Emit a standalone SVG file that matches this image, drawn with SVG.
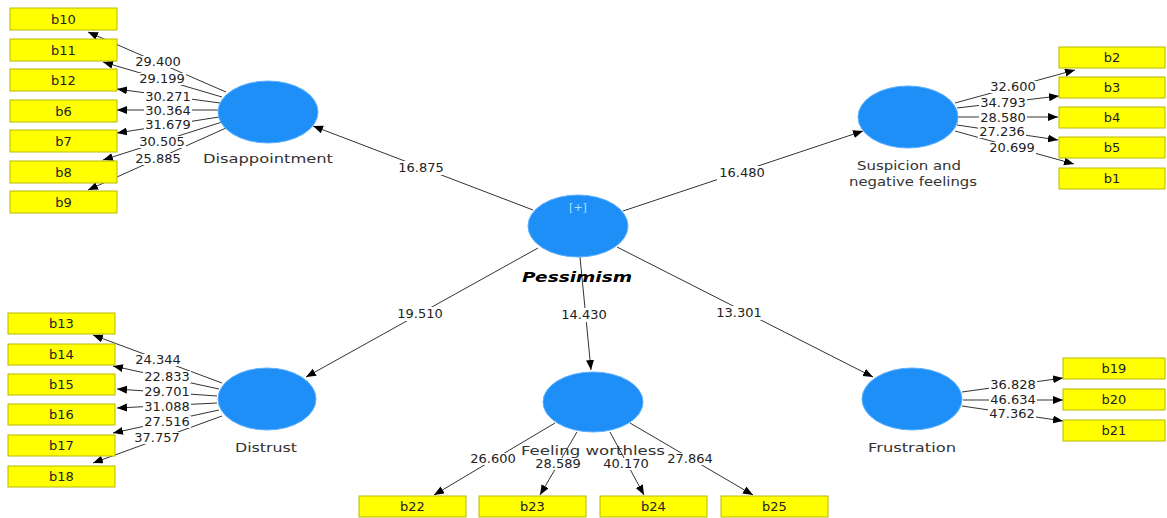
<svg xmlns="http://www.w3.org/2000/svg" width="1167" height="518" viewBox="0 0 1167 518">
<defs>
<marker id="ah" markerUnits="userSpaceOnUse" markerWidth="11" markerHeight="9" refX="10" refY="4" orient="auto">
<path d="M0,0 L10,4 L0,8 z" fill="#000"/>
</marker>
<style>
.box{fill:#ffff00;stroke:#b8b800;stroke-width:1}
.bt{font-family:"DejaVu Sans",Verdana,sans-serif;font-size:13px;fill:#222;text-anchor:middle}
.lv{fill:#1e8ff7;stroke:#5fb0ff;stroke-width:1}
.nl{font-family:"DejaVu Sans",Verdana,sans-serif;font-size:13px;fill:#333;text-anchor:middle}
.c line{stroke:#333;stroke-width:1;marker-end:url(#ah)}
.lb{font-family:"DejaVu Sans",Verdana,sans-serif;font-size:13px;fill:#222;text-anchor:middle}
.bg{fill:#fff}
</style>
</defs>
<rect width="1167" height="518" fill="#fff"/>

<g id="connectors" class="c">
<line x1="533" y1="210" x2="313" y2="126"/>
<line x1="623" y1="211" x2="863" y2="131"/>
<line x1="538" y1="248" x2="306" y2="377"/>
<line x1="580" y1="257" x2="591" y2="370"/>
<line x1="617" y1="247" x2="873" y2="377"/>
<line x1="226" y1="92" x2="88" y2="32"/>
<line x1="222" y1="97" x2="103" y2="62"/>
<line x1="220" y1="103" x2="117" y2="89"/>
<line x1="218" y1="110" x2="117" y2="110"/>
<line x1="219" y1="117" x2="117" y2="133"/>
<line x1="222" y1="122" x2="103" y2="160"/>
<line x1="226" y1="128" x2="88" y2="190"/>
<line x1="955" y1="103" x2="1075" y2="70"/>
<line x1="957" y1="108" x2="1059" y2="96"/>
<line x1="958" y1="117" x2="1058" y2="117"/>
<line x1="957" y1="125" x2="1058" y2="140"/>
<line x1="955" y1="131" x2="1074" y2="164"/>
<line x1="222" y1="383" x2="93" y2="335"/>
<line x1="219" y1="389" x2="113" y2="366"/>
<line x1="217" y1="396" x2="117" y2="389"/>
<line x1="217" y1="403" x2="117" y2="408"/>
<line x1="219" y1="410" x2="113" y2="433"/>
<line x1="222" y1="416" x2="93" y2="463"/>
<line x1="555" y1="423" x2="434" y2="495"/>
<line x1="577" y1="432" x2="540" y2="495"/>
<line x1="610" y1="432" x2="644" y2="495"/>
<line x1="630" y1="423" x2="753" y2="495"/>
<line x1="962" y1="392" x2="1063" y2="378"/>
<line x1="963" y1="400" x2="1063" y2="400"/>
<line x1="962" y1="406" x2="1063" y2="421"/>
</g>

<g id="edge-label-bg" class="bg">
<rect x="396" y="161" width="50" height="14"/>
<rect x="717" y="166" width="50" height="14"/>
<rect x="395" y="307" width="50" height="14"/>
<rect x="559" y="308" width="50" height="14"/>
<rect x="714" y="306" width="50" height="14"/>
<rect x="134" y="56" width="48" height="12"/>
<rect x="138" y="73" width="48" height="12"/>
<rect x="144" y="91" width="48" height="12"/>
<rect x="144" y="105" width="48" height="12"/>
<rect x="144" y="119" width="48" height="12"/>
<rect x="138" y="136" width="48" height="12"/>
<rect x="134" y="153" width="48" height="12"/>
<rect x="989" y="81" width="48" height="12"/>
<rect x="979" y="97" width="48" height="12"/>
<rect x="979" y="112" width="48" height="12"/>
<rect x="978" y="126" width="48" height="12"/>
<rect x="988" y="142" width="48" height="12"/>
<rect x="134" y="354" width="48" height="12"/>
<rect x="143" y="371" width="48" height="12"/>
<rect x="143" y="386" width="48" height="12"/>
<rect x="143" y="401" width="48" height="12"/>
<rect x="143" y="416" width="48" height="12"/>
<rect x="133" y="432" width="48" height="12"/>
<rect x="469" y="453" width="48" height="12"/>
<rect x="534" y="458" width="48" height="12"/>
<rect x="602" y="458" width="48" height="12"/>
<rect x="666" y="453" width="48" height="12"/>
<rect x="989" y="379" width="48" height="12"/>
<rect x="989" y="394" width="48" height="12"/>
<rect x="988" y="408" width="48" height="12"/>
</g>

<g id="edge-labels">
<text class="lb" x="421" y="172">16.875</text>
<text class="lb" x="742" y="177">16.480</text>
<text class="lb" x="420" y="318">19.510</text>
<text class="lb" x="584" y="319">14.430</text>
<text class="lb" x="739" y="317">13.301</text>
<text class="lb" x="158" y="66">29.400</text>
<text class="lb" x="162" y="83">29.199</text>
<text class="lb" x="168" y="101">30.271</text>
<text class="lb" x="168" y="115">30.364</text>
<text class="lb" x="168" y="129">31.679</text>
<text class="lb" x="162" y="146">30.505</text>
<text class="lb" x="158" y="163">25.885</text>
<text class="lb" x="1013" y="91">32.600</text>
<text class="lb" x="1003" y="107">34.793</text>
<text class="lb" x="1003" y="122">28.580</text>
<text class="lb" x="1002" y="136">27.236</text>
<text class="lb" x="1012" y="152">20.699</text>
<text class="lb" x="158" y="364">24.344</text>
<text class="lb" x="167" y="381">22.833</text>
<text class="lb" x="167" y="396">29.701</text>
<text class="lb" x="167" y="411">31.088</text>
<text class="lb" x="167" y="426">27.516</text>
<text class="lb" x="157" y="442">37.757</text>
<text class="lb" x="493" y="463">26.600</text>
<text class="lb" x="558" y="468">28.589</text>
<text class="lb" x="626" y="468">40.170</text>
<text class="lb" x="690" y="463">27.864</text>
<text class="lb" x="1013" y="389">36.828</text>
<text class="lb" x="1013" y="404">46.634</text>
<text class="lb" x="1012" y="418">47.362</text>
</g>

<g id="Pessimism">
<ellipse class="lv" cx="578" cy="226" rx="50" ry="31"/>
<text x="578" y="211" font-family="DejaVu Sans,Verdana,sans-serif" font-size="11" fill="#a8e4ff" text-anchor="middle">[+]</text>
<text x="577" y="282" font-family="DejaVu Sans,Verdana,sans-serif" font-size="14" font-weight="bold" font-style="italic" fill="#000" text-anchor="middle" textLength="110" lengthAdjust="spacingAndGlyphs">Pessimism</text>
</g>

<g id="Disappointment">
<ellipse class="lv" cx="268" cy="112" rx="50" ry="31"/>
<text class="nl" x="268" y="163" textLength="130" lengthAdjust="spacingAndGlyphs">Disappointment</text>
</g>
<g id="Suspicion">
<ellipse class="lv" cx="908" cy="117" rx="50" ry="31"/>
<text class="nl" x="909" y="170" textLength="104" lengthAdjust="spacingAndGlyphs">Suspicion and</text>
<text class="nl" x="913" y="186" textLength="128" lengthAdjust="spacingAndGlyphs">negative feelings</text>
</g>
<g id="Distrust">
<ellipse class="lv" cx="267" cy="399" rx="49" ry="31"/>
<text class="nl" x="266" y="452" textLength="62" lengthAdjust="spacingAndGlyphs">Distrust</text>
</g>
<g id="FeelingWorthless">
<ellipse class="lv" cx="593" cy="402" rx="50" ry="30"/>
<text class="nl" x="593" y="455" textLength="144" lengthAdjust="spacingAndGlyphs">Feeling worthless</text>
</g>
<g id="Frustration">
<ellipse class="lv" cx="912" cy="399" rx="50" ry="31"/>
<text class="nl" x="912" y="452" textLength="88" lengthAdjust="spacingAndGlyphs">Frustration</text>
</g>

<g id="b10"><rect class="box" x="10" y="8" width="107" height="22"/><text class="bt" x="63.5" y="24">b10</text></g>
<g id="b11"><rect class="box" x="10" y="39" width="107" height="22"/><text class="bt" x="63.5" y="55">b11</text></g>
<g id="b12"><rect class="box" x="10" y="69" width="107" height="22"/><text class="bt" x="63.5" y="85">b12</text></g>
<g id="b6"><rect class="box" x="10" y="100" width="107" height="22"/><text class="bt" x="63.5" y="116">b6</text></g>
<g id="b7"><rect class="box" x="10" y="130" width="107" height="22"/><text class="bt" x="63.5" y="146">b7</text></g>
<g id="b8"><rect class="box" x="10" y="161" width="107" height="22"/><text class="bt" x="63.5" y="177">b8</text></g>
<g id="b9"><rect class="box" x="10" y="191" width="107" height="22"/><text class="bt" x="63.5" y="207">b9</text></g>

<g id="b2"><rect class="box" x="1059" y="47" width="106" height="21"/><text class="bt" x="1112" y="62">b2</text></g>
<g id="b3"><rect class="box" x="1059" y="77" width="106" height="21"/><text class="bt" x="1112" y="92">b3</text></g>
<g id="b4"><rect class="box" x="1059" y="107" width="106" height="21"/><text class="bt" x="1112" y="122">b4</text></g>
<g id="b5"><rect class="box" x="1059" y="137" width="106" height="21"/><text class="bt" x="1112" y="152">b5</text></g>
<g id="b1"><rect class="box" x="1059" y="168" width="106" height="21"/><text class="bt" x="1112" y="183">b1</text></g>

<g id="b13"><rect class="box" x="8" y="313" width="107" height="21"/><text class="bt" x="61.5" y="328">b13</text></g>
<g id="b14"><rect class="box" x="8" y="344" width="107" height="21"/><text class="bt" x="61.5" y="359">b14</text></g>
<g id="b15"><rect class="box" x="8" y="374" width="107" height="21"/><text class="bt" x="61.5" y="389">b15</text></g>
<g id="b16"><rect class="box" x="8" y="404" width="107" height="21"/><text class="bt" x="61.5" y="419">b16</text></g>
<g id="b17"><rect class="box" x="8" y="435" width="107" height="21"/><text class="bt" x="61.5" y="450">b17</text></g>
<g id="b18"><rect class="box" x="8" y="466" width="107" height="21"/><text class="bt" x="61.5" y="481">b18</text></g>

<g id="b22"><rect class="box" x="359" y="496" width="107" height="21"/><text class="bt" x="412.5" y="511">b22</text></g>
<g id="b23"><rect class="box" x="479" y="496" width="107" height="21"/><text class="bt" x="532.5" y="511">b23</text></g>
<g id="b24"><rect class="box" x="600" y="496" width="107" height="21"/><text class="bt" x="653.5" y="511">b24</text></g>
<g id="b25"><rect class="box" x="721" y="496" width="107" height="21"/><text class="bt" x="774.5" y="511">b25</text></g>

<g id="b19"><rect class="box" x="1063" y="358" width="102" height="21"/><text class="bt" x="1114" y="373">b19</text></g>
<g id="b20"><rect class="box" x="1063" y="389" width="102" height="21"/><text class="bt" x="1114" y="404">b20</text></g>
<g id="b21"><rect class="box" x="1063" y="420" width="102" height="21"/><text class="bt" x="1114" y="435">b21</text></g>
</svg>
